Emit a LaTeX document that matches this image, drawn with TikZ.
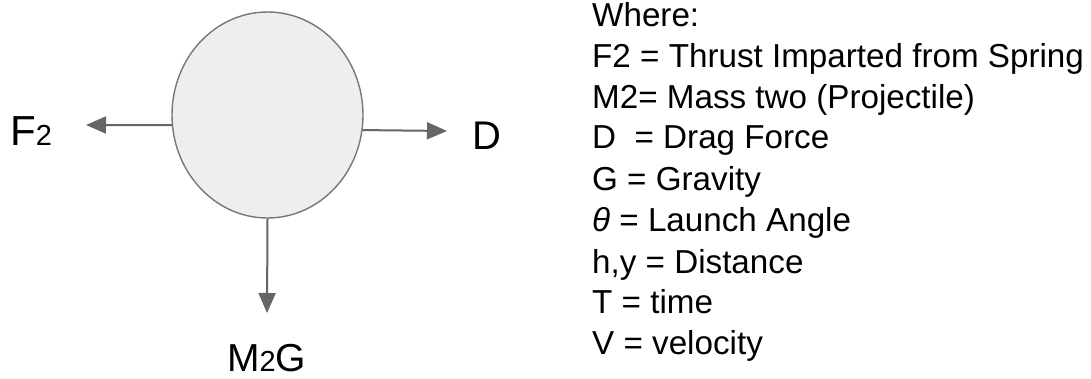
\documentclass[tikz,border=0pt]{standalone}
\usepackage{fontspec}
\setmainfont{Liberation Sans}
\usetikzlibrary{shapes.geometric,arrows.meta}
\definecolor{ballfill}{HTML}{EEEEEE}
\definecolor{ballline}{HTML}{777777}
\definecolor{arrowgrey}{HTML}{666666}
\begin{document}
\begin{tikzpicture}[x=1pt,y=-1pt,
  ballstyle/.style={ellipse,draw=ballline,fill=ballfill,line width=1.4pt,minimum width=191pt,minimum height=206pt,inner sep=0pt},
  force/.style={draw=arrowgrey,line width=2pt,-{Triangle[length=20pt,width=17pt]}},
  biglabel/.style={anchor=base west,inner sep=0pt,text=black},
  legendline/.style={anchor=base west,inner sep=0pt,text=black,font=\fontsize{33.2}{38}\selectfont}]
\useasboundingbox (0,0) rectangle (1091,379);
\node[ballstyle] (ball) at (267.5,115) {};
\coordinate (ftip) at (86,125);
\coordinate (dtip) at (447,131);
\coordinate (gtip) at (267,313);
\draw[force] (ball.186) -- (ftip);
\draw[force] (ball.351) -- (dtip);
\draw[force] (ball.south) -- (gtip);
\node[biglabel,font=\fontsize{42}{48}\selectfont] (flabel) at (10,146) {F{\fontsize{29}{34}\selectfont 2}};
\node[biglabel,font=\fontsize{40}{46}\selectfont] (dlabel) at (472,150) {D};
\node[biglabel,font=\fontsize{39}{46}\selectfont] (glabel) at (227,371) {M{\fontsize{29}{34}\selectfont 2}G};
\node[legendline] (l0) at (592,27) {Where:};
\node[legendline] (l1) at (592,68) {F2 = Thrust Imparted from Spring};
\node[legendline] (l2) at (592,109) {M2= Mass two (Projectile)};
\node[legendline] (l3) at (592,149) {D\ \ = Drag Force};
\node[legendline] (l4) at (592,191) {G = Gravity};
\node[legendline] (l5) at (592,232) {\textit{θ} = Launch Angle};
\node[legendline] (l6) at (592,273) {h,y = Distance};
\node[legendline] (l7) at (592,313) {T = time};
\node[legendline] (l8) at (592,354) {V = velocity};
\end{tikzpicture}
\end{document}
